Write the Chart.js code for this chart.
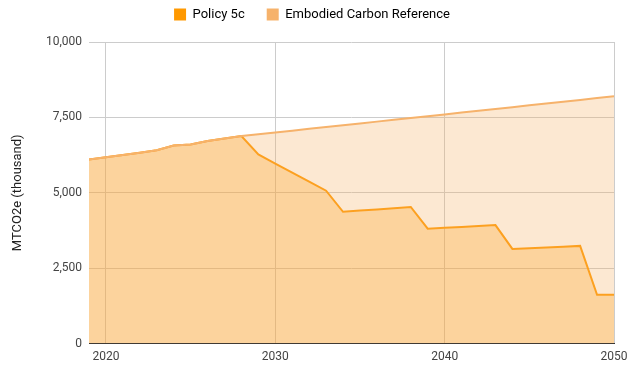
<!DOCTYPE html>
<html>
<head>
<meta charset="utf-8">
<script src="https://cdn.jsdelivr.net/npm/chart.js@4/dist/chart.umd.min.js"></script>
<style>
  html, body { margin: 0; padding: 0; background: #fff; }
  #wrap { width: 637px; height: 366px; }
</style>
</head>
<body>
<div id="wrap"><canvas id="chart" width="637" height="366"></canvas></div>
<script>
const years = [
  2019, 2020, 2021, 2022, 2023, 2024, 2025, 2026, 2027, 2028,
  2029, 2030, 2031, 2032, 2033, 2034, 2035, 2036, 2037, 2038,
  2039, 2040, 2041, 2042, 2043, 2044, 2045, 2046, 2047, 2048,
  2049, 2050
];
const policy5c = [
  6100, 6180, 6250, 6330, 6410, 6570, 6600, 6720, 6800, 6880,
  6270, 5970, 5670, 5370, 5070, 4370, 4410, 4450, 4490, 4530,
  3810, 3840, 3870, 3900, 3930, 3140, 3165, 3190, 3215, 3240,
  1620, 1620
];
const reference = [
  6100, 6180, 6250, 6330, 6410, 6570, 6600, 6720, 6800, 6880,
  6940, 7000, 7060, 7120, 7180, 7240, 7300, 7360, 7420, 7480,
  7540, 7600, 7660, 7720, 7780, 7840, 7900, 7960, 8020, 8080,
  8140, 8200
];
const yearTicks = [2020, 2030, 2040, 2050];

const POLICY_COLOR = "#ff9900";
const REFERENCE_COLOR = "#f6b26b";

Chart.defaults.font.family = "Roboto, 'Noto Sans', sans-serif";
Chart.defaults.font.size = 12;
Chart.defaults.color = "#444";

const toPoints = values => values.map((v, i) => ({ x: years[i], y: v }));

// extra room under the legend before the plot starts
const legendGap = {
  id: "legendGap",
  beforeLayout(chart) {
    const legend = chart.legend;
    if (!legend || legend._gapPatched) return;
    const fit = legend.fit;
    legend.fit = function () {
      fit.call(this);
      this.height += 11;
    };
    legend._gapPatched = true;
  }
};

new Chart(document.getElementById("chart"), {
  type: "line",
  data: {
    datasets: [{
      label: "Policy 5c",
      data: toPoints(policy5c),
      borderColor: POLICY_COLOR,
      backgroundColor: "rgba(255, 153, 0, 0.3)",
      borderWidth: 2,
      pointRadius: 0,
      fill: "origin",
      order: 1
    }, {
      label: "Embodied Carbon Reference",
      data: toPoints(reference),
      borderColor: REFERENCE_COLOR,
      backgroundColor: "rgba(246, 178, 107, 0.3)",
      borderWidth: 2,
      pointRadius: 0,
      fill: "origin",
      order: 0
    }]
  },
  plugins: [legendGap],
  options: {
    responsive: false,
    animation: false,
    layout: { padding: { left: 10, right: 23, top: -14, bottom: -4 } },
    plugins: {
      legend: {
        position: "top",
        labels: {
          boxWidth: 12,
          boxHeight: 12,
          padding: 22,
          color: "#555",
          font: { size: 13 },
          generateLabels: chart => chart.data.datasets.map((ds, i) => ({
            text: ds.label,
            fillStyle: ds.borderColor,
            strokeStyle: ds.borderColor,
            lineWidth: 0,
            datasetIndex: i
          }))
        }
      },
      tooltip: { enabled: false }
    },
    scales: {
      x: {
        type: "linear",
        min: 2019,
        max: 2050,
        afterBuildTicks: scale => {
          scale.ticks = yearTicks.map(v => ({ value: v }));
        },
        ticks: {
          callback: v => String(v),
          padding: 6,
          maxRotation: 0
        },
        grid: { color: "#cccccc", drawTicks: false },
        border: { display: true, color: "#333" }
      },
      y: {
        min: 0,
        max: 10000,
        afterFit: scale => { scale.width = 79; },
        ticks: { stepSize: 2500, padding: 7 },
        grid: {
          drawTicks: false,
          color: ctx => ctx.tick && ctx.tick.value === 0 ? "#333" : "#cccccc"
        },
        border: { display: false },
        title: {
          display: true,
          text: "MTCO2e (thousand)",
          color: "#222",
          font: { size: 13 },
          padding: 0
        }
      }
    }
  }
});
</script>
</body>
</html>
